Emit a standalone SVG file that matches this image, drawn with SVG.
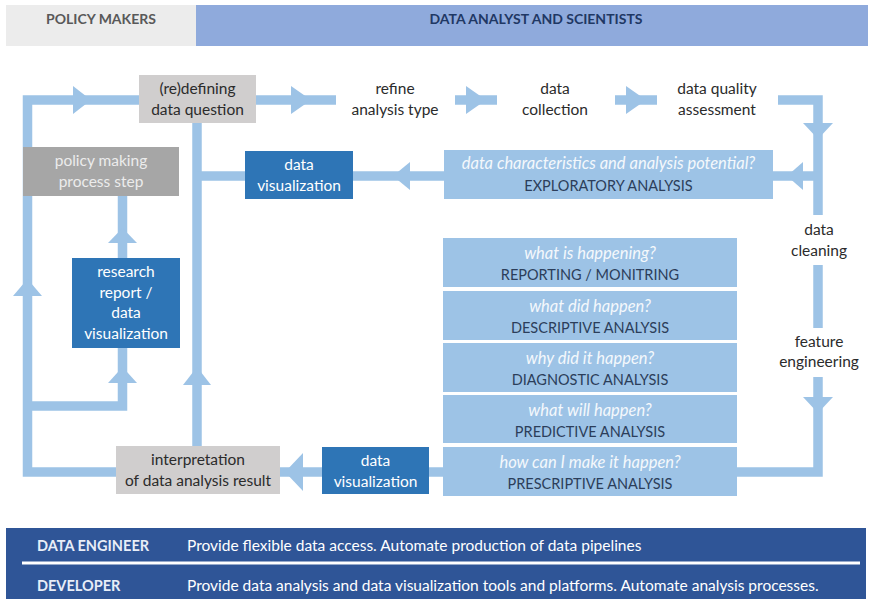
<svg xmlns="http://www.w3.org/2000/svg" width="869" height="599" viewBox="0 0 869 599">
<style>
text{font-family:Lato,"Liberation Sans",sans-serif;}
.t{font-size:15.5px;fill:#2b2b2b;text-anchor:middle;}
.tw{font-size:15.5px;fill:#ffffff;text-anchor:middle;}
.tp{font-size:15.5px;fill:#ececec;text-anchor:middle;}
.q{font-size:16.5px;fill:#f4f8fc;font-style:italic;text-anchor:middle;}
.c{font-size:14.5px;fill:#2c3e5a;text-anchor:middle;}
.hdr{font-size:14px;font-weight:bold;text-anchor:middle;}
.conn{fill:none;stroke:#9dc3e6;stroke-width:9.5;stroke-linejoin:miter;stroke-linecap:butt;}
.ah{fill:#9dc3e6;}
.grey{fill:#d0cece;}
.dark{fill:#2e75b6;}
.lb{fill:#9dc3e6;}
.band{font-size:15.5px;fill:#ffffff;}
.role{font-size:14.5px;font-weight:bold;fill:#e8eef8;}
</style>
<rect x="0" y="0" width="869" height="599" fill="#ffffff"/>
<g id="header">
<rect x="6" y="5" width="190" height="41" fill="#ececec"/>
<rect x="196" y="5" width="672" height="41" fill="#8faadc"/>
<text class="hdr" x="101" y="24" fill="#595959">POLICY MAKERS</text>
<text class="hdr" x="536" y="24" fill="#1f3864">DATA ANALYST AND SCIENTISTS</text>
</g>
<g id="connectors">
<path class="conn" d="M116,472 H27.5 V100 H139"/>
<path class="conn" d="M256,100 H336"/>
<path class="conn" d="M455,100 H497"/>
<path class="conn" d="M615,100 H657"/>
<path class="conn" d="M778,100 H818 V215"/>
<path class="conn" d="M818,176 H773"/>
<path class="conn" d="M818,265 V328"/>
<path class="conn" d="M818,377 V472 H737"/>
<path class="conn" d="M443,472 H280"/>
<path class="conn" d="M27.5,406 H122.5 V348"/>
<path class="conn" d="M122.5,258 V196"/>
<path class="conn" d="M197,123 V446"/>
<path class="conn" d="M197,176 H245"/>
<path class="conn" d="M353,176 H444"/>
<polygon class="ah" points="73,86 91,100 73,114"/>
<polygon class="ah" points="291,86 311,100 291,114"/>
<polygon class="ah" points="466,86 486,100 466,114"/>
<polygon class="ah" points="626,86 646,100 626,114"/>
<polygon class="ah" points="803,123 833,123 818,139"/>
<polygon class="ah" points="803,162 803,190 787,176"/>
<polygon class="ah" points="803,397 833,397 818,413"/>
<polygon class="ah" points="303,453 303,491 285,472"/>
<polygon class="ah" points="13,296 42,296 27.5,279"/>
<polygon class="ah" points="108,383 137,383 122.5,367"/>
<polygon class="ah" points="108,243 137,243 122.5,228"/>
<polygon class="ah" points="183,385 211,385 197,367"/>
<polygon class="ah" points="410,162 410,190 393,176"/>
</g>
<g id="redefining">
<rect class="grey" x="139" y="75" width="117" height="48"/>
<text class="t" x="197.5" y="94">(re)defining</text>
<text class="t" x="197.5" y="115">data question</text>
</g>
<g id="refine">
<text class="t" x="395" y="94">refine</text>
<text class="t" x="395" y="115">analysis type</text>
</g>
<g id="collection">
<text class="t" x="555" y="94">data</text>
<text class="t" x="555" y="115">collection</text>
</g>
<g id="quality">
<text class="t" x="717" y="94">data quality</text>
<text class="t" x="717" y="115">assessment</text>
</g>
<g id="cleaning">
<text class="t" x="819" y="235">data</text>
<text class="t" x="819" y="256">cleaning</text>
</g>
<g id="feature">
<text class="t" x="819" y="347">feature</text>
<text class="t" x="819" y="367">engineering</text>
</g>
<g id="policy">
<rect x="23" y="147" width="156" height="49" fill="#a6a6a6"/>
<text class="tp" x="101" y="166">policy making</text>
<text class="tp" x="101" y="187">process step</text>
</g>
<g id="dv-top">
<rect class="dark" x="245" y="151" width="108" height="48"/>
<text class="tw" x="299" y="170">data</text>
<text class="tw" x="299" y="191">visualization</text>
</g>
<g id="exploratory">
<rect class="lb" x="444" y="150" width="329" height="49"/>
<text class="q" x="608.5" y="169">data characteristics and analysis potential?</text>
<text class="c" x="608.5" y="191">EXPLORATORY ANALYSIS</text>
</g>
<g id="research">
<rect class="dark" x="72" y="258" width="108" height="90"/>
<text class="tw" x="126" y="277">research</text>
<text class="tw" x="126" y="298">report /</text>
<text class="tw" x="126" y="318">data</text>
<text class="tw" x="126" y="339">visualization</text>
</g>
<g id="reporting">
<rect class="lb" x="443" y="238" width="294" height="49"/>
<text class="q" x="590" y="259">what is happening?</text>
<text class="c" x="590" y="280">REPORTING / MONITRING</text>
</g>
<g id="descriptive">
<rect class="lb" x="443" y="291" width="294" height="49"/>
<text class="q" x="590" y="312">what did happen?</text>
<text class="c" x="590" y="333">DESCRIPTIVE ANALYSIS</text>
</g>
<g id="diagnostic">
<rect class="lb" x="443" y="343" width="294" height="49"/>
<text class="q" x="590" y="364">why did it happen?</text>
<text class="c" x="590" y="385">DIAGNOSTIC ANALYSIS</text>
</g>
<g id="predictive">
<rect class="lb" x="443" y="395" width="294" height="48"/>
<text class="q" x="590" y="416">what will happen?</text>
<text class="c" x="590" y="437">PREDICTIVE ANALYSIS</text>
</g>
<g id="prescriptive">
<rect class="lb" x="443" y="447" width="294" height="49"/>
<text class="q" x="590" y="468">how can I make it happen?</text>
<text class="c" x="590" y="489">PRESCRIPTIVE ANALYSIS</text>
</g>
<g id="dv-bottom">
<rect class="dark" x="322" y="447" width="107" height="47"/>
<text class="tw" x="375.5" y="466">data</text>
<text class="tw" x="375.5" y="487">visualization</text>
</g>
<g id="interpretation">
<rect class="grey" x="116" y="446" width="164" height="48"/>
<text class="t" x="198" y="465">interpretation</text>
<text class="t" x="198" y="486">of data analysis result</text>
</g>
<g id="roles">
<rect x="6" y="528" width="860" height="71" fill="#2f5597"/>
<line x1="22" y1="563" x2="860" y2="563" stroke="#ffffff" stroke-width="3"/>
<text class="role" x="37" y="551">DATA ENGINEER</text>
<text class="band" x="187" y="551">Provide flexible data access. Automate production of data pipelines</text>
<text class="role" x="37" y="591">DEVELOPER</text>
<text class="band" x="187" y="591">Provide data analysis and data visualization tools and platforms. Automate analysis processes.</text>
</g>
</svg>
